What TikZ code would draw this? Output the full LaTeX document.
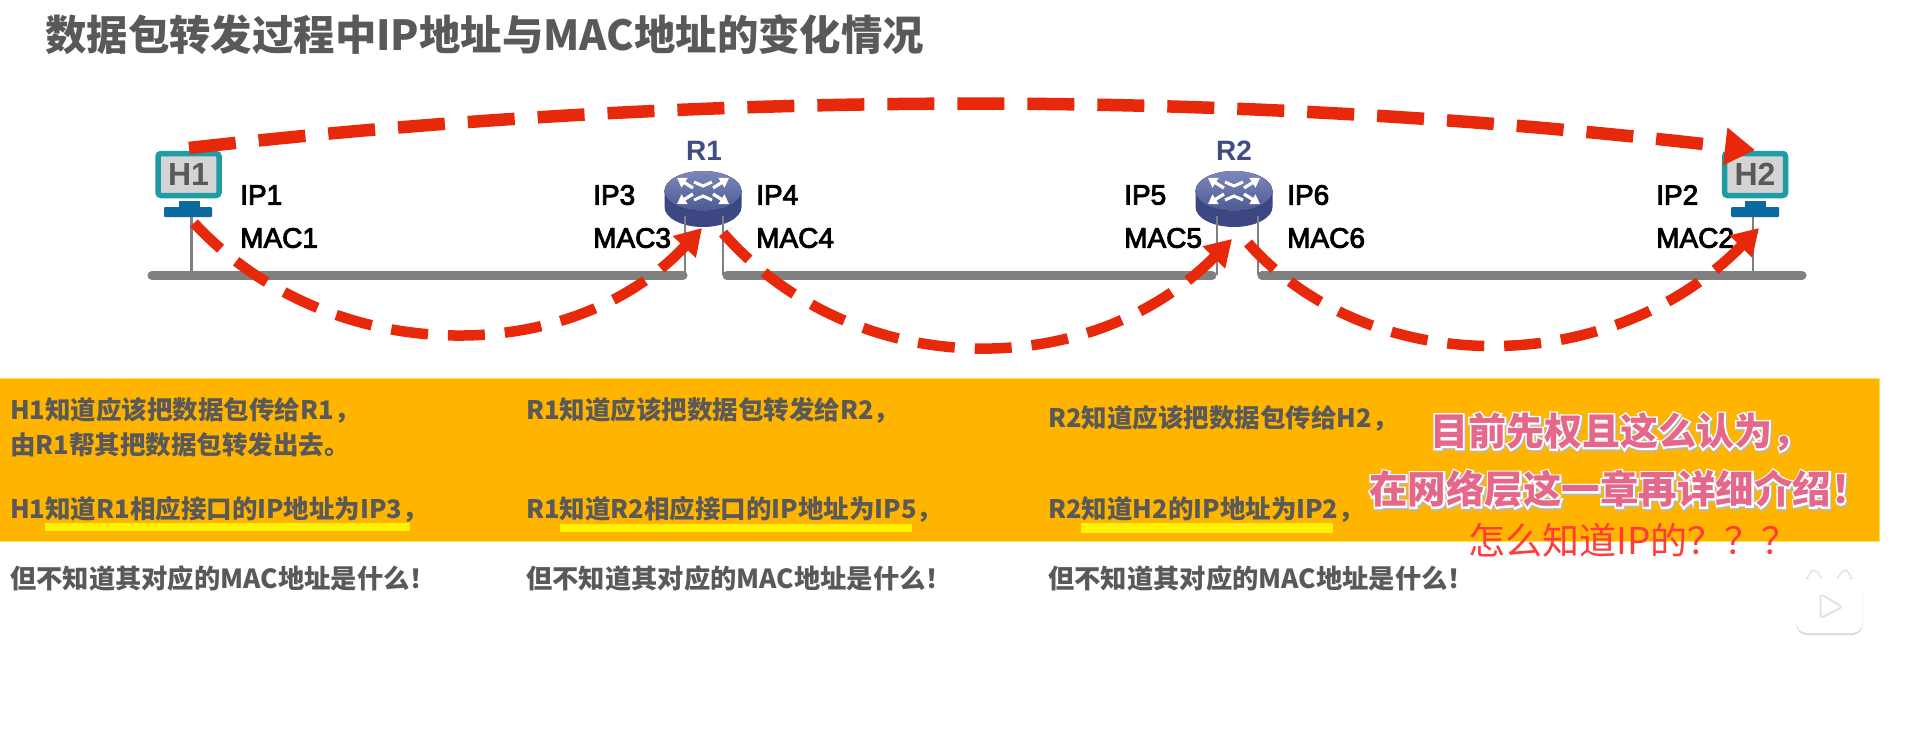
\documentclass[tikz,border=0pt]{standalone}
\usepackage{fontspec}
\usetikzlibrary{arrows.meta}
\setmainfont{Liberation Sans}
\newfontfamily\cjk{Noto Sans CJK SC}
\definecolor{bandc}{HTML}{FFB400}
\definecolor{redc}{HTML}{E8280A}
\definecolor{greyt}{HTML}{595959}
\definecolor{busc}{HTML}{808080}
\definecolor{teal1}{HTML}{1E9BA3}
\definecolor{stand}{HTML}{0B6A9E}
\definecolor{routtop}{HTML}{5B6AAC}
\definecolor{routlow}{HTML}{3C4784}
\definecolor{rlabel}{HTML}{414C82}
\definecolor{pinkt}{HTML}{E5678A}
\definecolor{redq}{HTML}{FF3B3B}
% pink fill over a white outline and a faint grey shadow, all in one node
\newcommand\outlinetext[1]{%
  \rlap{\raisebox{-2pt}{\color{black!30}\special{pdf:code 2 Tr 3.6 w 0.75 0.72 0.62 RG}\kern1pt #1\special{pdf:code 0 Tr}}}%
  \rlap{\color{white}\special{pdf:code 2 Tr 3.4 w 1 1 1 RG}#1\special{pdf:code 0 Tr}}%
  #1}
\tikzset{
  titletext/.style={anchor=west,inner sep=0,text=greyt,font=\cjk\bfseries\fontsize{41.4}{46}\selectfont},
  bodytext/.style={anchor=west,inner sep=0,text=greyt,font=\cjk\bfseries\fontsize{25.5}{30}\selectfont},
  bodylast/.style={anchor=west,inner sep=0,text=greyt,font=\cjk\bfseries\fontsize{26.3}{30}\selectfont},
  addr/.style={anchor=west,inner sep=0,font=\fontsize{28}{32}\selectfont,
    execute at begin node={\special{pdf:code 2 Tr 0.9 w 0 0 0 RG}},
    execute at end node={\special{pdf:code 0 Tr}}},
  monitor/.style={draw=teal1,fill=black!17,line width=5.5pt,rounded corners=3pt,minimum width=61pt,minimum height=42pt,inner sep=0,text=black!65,font=\bfseries\fontsize{32}{36}\selectfont},
  standtop/.style={fill=stand,minimum width=21pt,minimum height=7pt,inner sep=0},
  standbase/.style={fill=stand,rounded corners=1pt,minimum width=48pt,minimum height=10pt,inner sep=0},
  rname/.style={inner sep=0,text=rlabel,font=\bfseries\fontsize{28}{30}\selectfont},
  busline/.style={busc,line width=9pt,line cap=round},
  drop/.style={busc,line width=2.2pt},
  hl/.style={fill=yellow,inner sep=0},
  longarc/.style={redc,line width=12.5pt,dash pattern=on 47pt off 23pt,-{Triangle[length=30pt,width=36pt]}},
  hoparc/.style={redc,line width=10.5pt,dash pattern=on 37pt off 20pt,-{Triangle[length=26pt,width=30pt]}},
  routericon/.pic={
    \fill[routlow] (-38.5,0) -- (-38.5,16) arc[start angle=180,end angle=0,x radius=38.5,y radius=20] -- (38.5,0) -- cycle;
    \fill[top color=routtop!80!white,bottom color=routtop!85!black] (0,0) ellipse[x radius=38.5,y radius=20];
    \foreach \sx in {-1,1}{\foreach \sy in {-1,1}{
      \draw[white,line width=3.2pt,-{Triangle[length=9pt,width=11pt]}] (\sx*10,\sy*3) -- (\sx*26,\sy*13);
    }}
    \draw[white,line width=3pt] (-9,-9) -- (0,-5) -- (9,-9);
    \draw[white,line width=3pt] (-9,9) -- (0,5) -- (9,9);
  }
}
\begin{document}
\begin{tikzpicture}[x=1pt,y=-1pt]
\useasboundingbox[fill=white] (0,0) rectangle (1912,745);
% band
\node[fill=bandc,draw=bandc!60!yellow!70!white,line width=0.8pt,inner sep=0,minimum width=1882pt,minimum height=163pt,anchor=north west] (band) at (-3,378) {};
\node[hl,minimum width=365pt,minimum height=8pt,anchor=west] (y1) at (45,527) {};
\node[hl,minimum width=352pt,minimum height=8pt,anchor=west] (y2) at (560,528) {};
\node[hl,minimum width=252pt,minimum height=10pt,anchor=west] (y3) at (1081,528) {};
% title
\node[titletext] (title) at (45,35) {数据包转发过程中IP地址与MAC地址的变化情况};
% buses
\coordinate (b1a) at (152,275.5); \coordinate (b1b) at (683,275.5);
\coordinate (b2a) at (727,275.5); \coordinate (b2b) at (1212,275.5);
\coordinate (b3a) at (1262,275.5); \coordinate (b3b) at (1802,275.5);
\draw[busline] (b1a) -- (b1b);
\draw[busline] (b2a) -- (b2b);
\draw[busline] (b3a) -- (b3b);
% routers
\pic (r1) at (703,191) {routericon};
\pic (r2) at (1234,191) {routericon};
\coordinate (r1l) at (685,216); \coordinate (r1lb) at (685,275);
\coordinate (r1r) at (723,216); \coordinate (r1rb) at (723,275);
\coordinate (r2l) at (1217,216); \coordinate (r2lb) at (1217,275);
\coordinate (r2r) at (1258,216); \coordinate (r2rb) at (1258,275);
\draw[drop] (r1l) -- (r1lb);
\draw[drop] (r1r) -- (r1rb);
\draw[drop] (r2l) -- (r2lb);
\draw[drop] (r2r) -- (r2rb);
\node[rname] (r1name) at (704,151) {R1};
\node[rname] (r2name) at (1234,151) {R2};
% hosts
\node[monitor] (h1) at (188.5,174.5) {H1};
\node[standtop] (h1t) at (189,204.5) {};
\node[standbase] (h1b) at (188,212) {};
\coordinate (h1bus) at (191.5,275);
\draw[drop] (h1b.south -| h1bus) -- (h1bus);
\node[monitor] (h2) at (1755,174.5) {H2};
\node[standtop] (h2t) at (1755,204.5) {};
\node[standbase] (h2b) at (1755,212) {};
\coordinate (h2bus) at (1753,275);
\draw[drop] (h2b.south -| h2bus) -- (h2bus);
% address labels
\node[addr] (ip1) at (240,195) {IP1};
\node[addr] (mac1) at (240,238) {MAC1};
\node[addr] (ip3) at (593,195) {IP3};
\node[addr] (mac3) at (593,238) {MAC3};
\node[addr] (ip4) at (756,195) {IP4};
\node[addr] (mac4) at (756,238) {MAC4};
\node[addr] (ip5) at (1124,195) {IP5};
\node[addr] (mac5) at (1124,238) {MAC5};
\node[addr] (ip6) at (1287,195) {IP6};
\node[addr] (mac6) at (1287,238) {MAC6};
\node[addr] (ip2) at (1656,195) {IP2};
\node[addr] (mac2) at (1656,238) {MAC2};
% arcs
\coordinate (la) at (189,148); \coordinate (lb) at (1755,150);
\draw[longarc] (la) .. controls (711,89) and (1233,89) .. (lb);
\coordinate (a1s) at (194,223); \coordinate (a1e) at (702,228);
\draw[hoparc] (a1s) .. controls (330,369) and (570,369) .. (a1e);
\coordinate (a2s) at (723,233); \coordinate (a2e) at (1232,239);
\draw[hoparc] (a2s) .. controls (855,383) and (1090,383) .. (a2e);
\coordinate (a3s) at (1248,243); \coordinate (a3e) at (1759,228);
\draw[hoparc] (a3s) .. controls (1370,380) and (1610,380) .. (a3e);
% body text
\node[bodytext] (t11) at (10,410) {H1知道应该把数据包传给R1，};
\node[bodytext] (t12) at (10,445) {由R1帮其把数据包转发出去。};
\node[bodytext] (t13) at (10,509) {H1知道R1相应接口的IP地址为IP3，};
\node[bodylast] (t14) at (10,578) {但不知道其对应的MAC地址是什么！};
\node[bodytext] (t21) at (526,410) {R1知道应该把数据包转发给R2，};
\node[bodytext] (t23) at (526,509) {R1知道R2相应接口的IP地址为IP5，};
\node[bodylast] (t24) at (526,578) {但不知道其对应的MAC地址是什么！};
\node[bodytext] (t31) at (1048,418) {R2知道应该把数据包传给H2，};
\node[bodytext] (t33) at (1048,509) {R2知道H2的IP地址为IP2，};
\node[bodylast] (t34) at (1048,578) {但不知道其对应的MAC地址是什么！};
% overlay text
\node[anchor=west,inner sep=0,text=pinkt,font=\cjk\bfseries\fontsize{38}{40}\selectfont] (p1) at (1430,433) {\outlinetext{目前先权且这么认为，}};
\node[anchor=west,inner sep=0,text=pinkt,font=\cjk\bfseries\fontsize{38.5}{40}\selectfont] (p2) at (1369,490) {\outlinetext{在网络层这一章再详细介绍！}};
\node[anchor=west,inner sep=0,text=redq,font=\cjk\fontsize{37}{40}\selectfont] (p3) at (1468,540) {怎么知道IP的？？？};
% logo
\begin{scope}[shift={(1829.5,606)}]
\fill[black!14,rounded corners=11pt] (-33.5,-25) rectangle (33.5,29);
\draw[black!12,fill=white,line width=1.2pt,line cap=round] (-23,-27) -- (-17,-36) -- (-12,-34) -- (-7,-26) -- cycle;
\draw[black!12,fill=white,line width=1.2pt,line cap=round] (23,-27) -- (17,-36) -- (12,-34) -- (7,-26) -- cycle;
\fill[white,rounded corners=11pt] (-33.5,-27) rectangle (33.5,27);
\draw[black!12,fill=white,line width=1.8pt,rounded corners=3pt] (-9,-12) -- (13,1) -- (-9,12) -- cycle;
\end{scope}
\end{tikzpicture}
\end{document}
